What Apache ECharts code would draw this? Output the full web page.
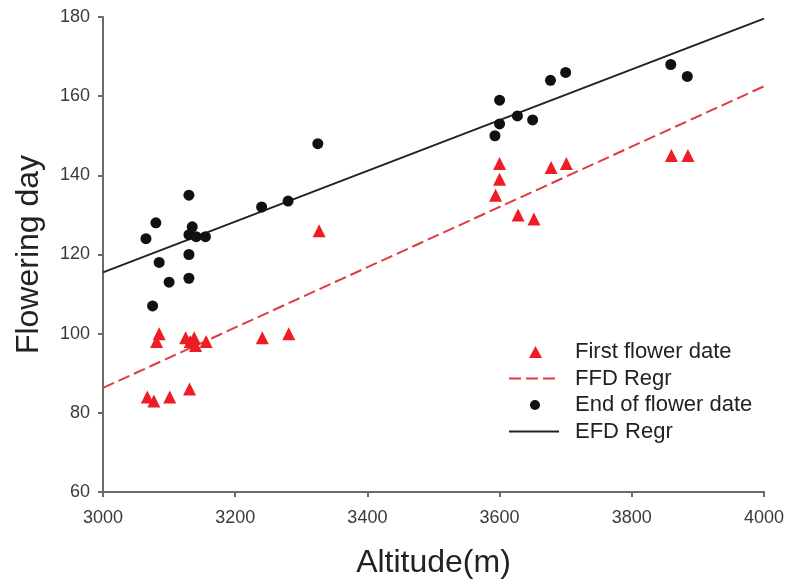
<!DOCTYPE html>
<html>
<head>
<meta charset="utf-8">
<script src="https://cdn.jsdelivr.net/npm/echarts@6/dist/echarts.min.js"></script>
<style>html,body{margin:0;padding:0;background:#fff;}#c{width:787px;height:585px;}</style>
</head>
<body>
<div id="c"></div>
<script>
// First flower date (FFD) observations
var ffdAlt = [3067, 3077, 3081, 3085, 3101, 3131, 3125, 3132, 3138, 3140, 3156, 3241, 3281, 3327, 3594, 3600, 3600, 3628, 3652, 3678, 3701, 3860, 3885];
var ffdDay = [84, 83, 98, 100, 84, 86, 99, 98, 99, 97, 98, 99, 100, 126, 135, 139, 143, 130, 129, 142, 143, 145, 145];
// End of flower date (EFD) observations
var efdAlt = [3065, 3080, 3075, 3085, 3100, 3130, 3130, 3135, 3130, 3130, 3141, 3155, 3240, 3280, 3325, 3593, 3600, 3600, 3627, 3650, 3677, 3700, 3859, 3884];
var efdDay = [124, 128, 107, 118, 113, 135, 125, 127, 120, 114, 124.5, 124.5, 132, 133.5, 148, 150, 153, 159, 155, 154, 164, 166, 168, 165];
// Regression lines (endpoints)
var regAlt = [3000, 4000];
var ffdRegDay = [86.3, 162.5];
var efdRegDay = [115.5, 179.6];
// Axis ticks
var xTicks = [3000, 3200, 3400, 3600, 3800, 4000];
var yTicks = [60, 80, 100, 120, 140, 160, 180];
// Legend entries
var legendNames = ['First flower date', 'FFD Regr', 'End of flower date', 'EFD Regr'];

function pairs(xs, ys) { return xs.map(function (x, i) { return [x, ys[i]]; }); }

var chart = echarts.init(document.getElementById('c'), null, {renderer: 'canvas'});
var FONT = 'Liberation Sans, Arial, sans-serif';
var axisCommon = {
  axisLine: {show: true, lineStyle: {color: '#6a6a6a', width: 2}},
  axisTick: {show: true, inside: false, length: 5, lineStyle: {color: '#6a6a6a', width: 2}},
  splitLine: {show: false},
  axisLabel: {color: '#3a3a3a', fontSize: 18, fontFamily: FONT, formatter: function (v) { return String(v); }},
  nameTextStyle: {color: '#222', fontSize: 32, fontFamily: FONT},
  nameLocation: 'middle'
};
var legendText = {color: '#222', fontSize: 22, fontFamily: FONT};
function mkLegend(name, top, left, w, h, textPad, extra) {
  var item = Object.assign({name: name}, extra || {});
  return {
    orient: 'vertical', left: left, top: top, padding: 0, itemWidth: w, itemHeight: h,
    textStyle: Object.assign({}, legendText, {padding: [0, 0, 0, textPad]}),
    data: [item]
  };
}
var option = {
  backgroundColor: '#fff',
  animation: false,
  grid: {left: 103, right: 21, top: 17, bottom: 93, containLabel: false},
  xAxis: Object.assign({}, axisCommon, {
    type: 'value', min: xTicks[0], max: xTicks[xTicks.length - 1], interval: 200,
    name: 'Altitude(m)', nameGap: 55,
    axisLabel: Object.assign({}, axisCommon.axisLabel, {margin: 17})
  }),
  yAxis: Object.assign({}, axisCommon, {
    type: 'value', min: yTicks[0], max: yTicks[yTicks.length - 1], interval: 20,
    name: 'Flowering day', nameGap: 58,
    axisLabel: Object.assign({}, axisCommon.axisLabel, {margin: 13})
  }),
  legend: [
    mkLegend(legendNames[0], 341, 529, 13, 12, 28, {icon: 'triangle'}),
    mkLegend(legendNames[1], 367.5, 508, 50, 12, 11, {itemStyle: {opacity: 0}}),
    mkLegend(legendNames[2], 394, 530, 10, 10, 30, {icon: 'circle'}),
    mkLegend(legendNames[3], 420.5, 508, 50, 12, 11, {itemStyle: {opacity: 0}})
  ],
  series: [
    {
      name: legendNames[1], type: 'line', data: pairs(regAlt, ffdRegDay), symbol: 'none', z: 1,
      lineStyle: {color: '#e23a42', width: 2, type: [12, 5]}, itemStyle: {color: '#e23a42'}
    },
    {
      name: legendNames[3], type: 'line', data: pairs(regAlt, efdRegDay), symbol: 'none', z: 1,
      lineStyle: {color: '#222', width: 2}, itemStyle: {color: '#222'}
    },
    {
      name: legendNames[0], type: 'scatter', symbol: 'triangle', symbolSize: 13, z: 3,
      data: pairs(ffdAlt, ffdDay), itemStyle: {color: '#ee1c24', opacity: 1}
    },
    {
      name: legendNames[2], type: 'scatter', symbol: 'circle', symbolSize: 11, z: 3,
      data: pairs(efdAlt, efdDay), itemStyle: {color: '#111', opacity: 1}
    }
  ]
};
chart.setOption(option);
</script>
</body>
</html>
